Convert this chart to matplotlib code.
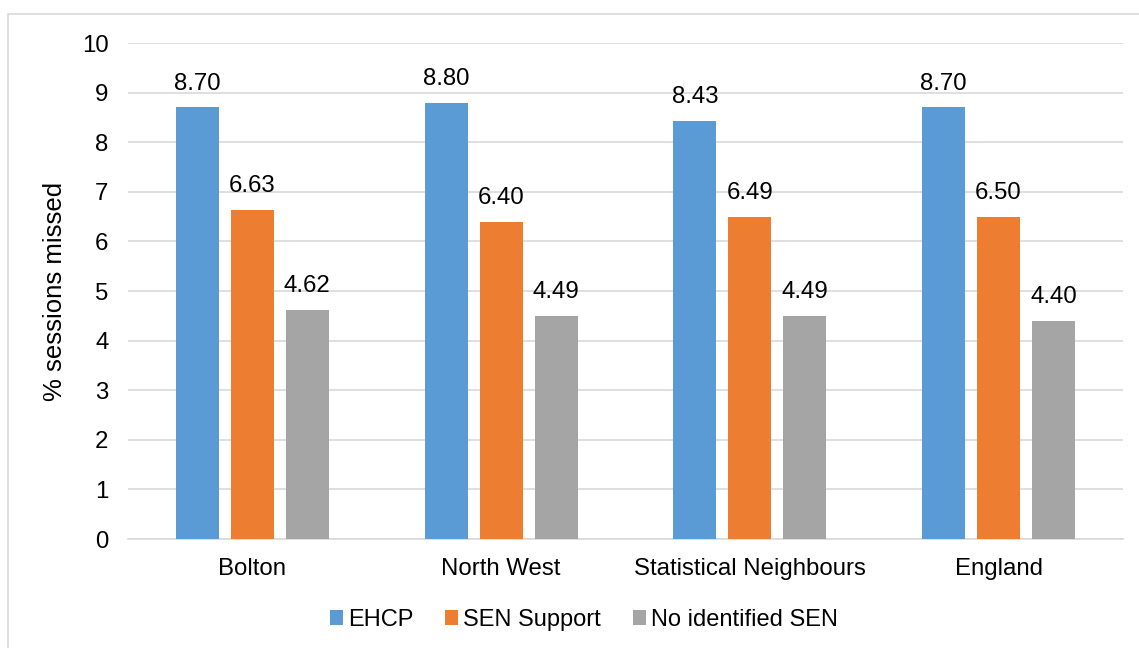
import matplotlib
matplotlib.use('Agg')
import matplotlib.pyplot as plt
from matplotlib.patches import Rectangle
import numpy as np

plt.rcParams['font.family'] = ['Liberation Sans', 'DejaVu Sans']

areas = ['Bolton', 'North West', 'Statistical Neighbours', 'England']
series = ['EHCP', 'SEN Support', 'No identified SEN']
ehcp = [8.70, 8.80, 8.43, 8.70]
sen_support = [6.63, 6.40, 6.49, 6.50]
no_sen = [4.62, 4.49, 4.49, 4.40]
colours = ['#5B9BD5', '#ED7D31', '#A5A5A5']

fs = 17.3

fig = plt.figure(figsize=(11.39, 6.48), dpi=100)
# outer chart border
fig.patches.append(Rectangle((8 / 1139, -0.01), 1.02, 1 - 14 / 648 + 0.01,
                             transform=fig.transFigure, fill=False,
                             edgecolor='#D9D9D9', linewidth=1.2))

ax = fig.add_axes([128 / 1139, 1 - 539 / 648, 995 / 1139, 496 / 648])

x = np.arange(len(areas))
width = 0.173
step = 0.221
for i, (vals, name, col) in enumerate(zip([ehcp, sen_support, no_sen], series, colours)):
    bars = ax.bar(x + (i - 1) * step, vals, width, color=col, label=name, zorder=3)
    for b, v in zip(bars, vals):
        ax.text(b.get_x() + b.get_width() / 2, v + 0.26, f'{v:.2f}',
                ha='center', va='bottom', fontsize=fs, color='#000000')

ax.set_xlim(-0.5, len(areas) - 0.5)
ax.set_ylim(0, 10)
ax.set_yticks(range(0, 11))
ax.set_xticks(x)
ax.set_xticklabels(areas)
ax.tick_params(axis='both', length=0, labelsize=fs, colors='#000000')
ax.tick_params(axis='x', pad=14)
ax.tick_params(axis='y', pad=14)
ax.grid(axis='y', color='#D9D9D9', linewidth=1.2, zorder=0)
for s in ['top', 'right', 'left']:
    ax.spines[s].set_visible(False)
ax.spines['bottom'].set_color('#D9D9D9')
ax.spines['bottom'].set_linewidth(1.2)
ax.set_ylabel('% sessions missed', fontsize=18.5)
ax.yaxis.set_label_coords(-61 / 995, 0.5)

ax.legend(loc='center', bbox_to_anchor=(0.458, -0.163), ncol=3, frameon=False,
          fontsize=17, handlelength=0.55, handleheight=0.55, handletextpad=0.22,
          columnspacing=1.35)

fig.savefig('out.png', dpi=100)
